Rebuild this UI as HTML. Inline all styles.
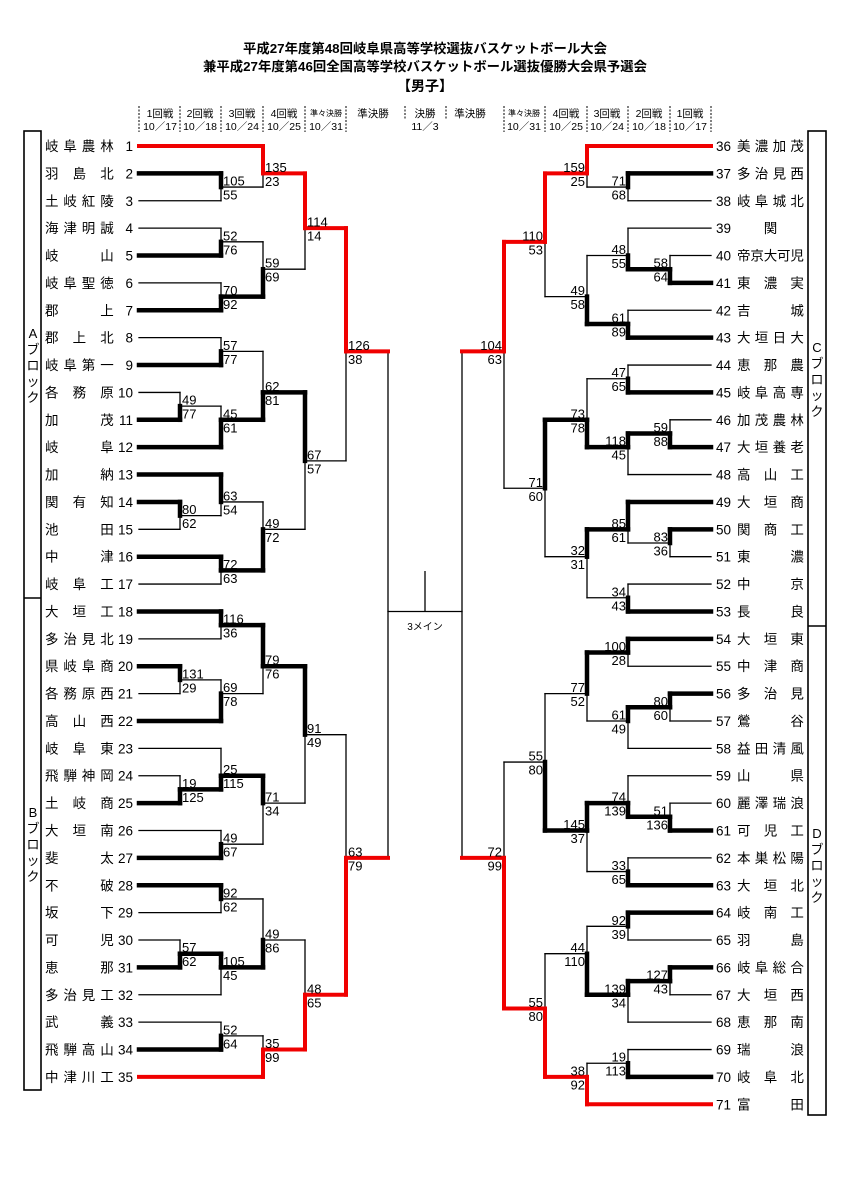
<!DOCTYPE html>
<html><head><meta charset="utf-8"><style>
html,body{margin:0;padding:0;background:#fff;}
svg{display:block;font-family:"Liberation Sans","Noto Sans CJK JP",sans-serif;}
</style></head><body>
<svg id="s" width="849" height="1200" viewBox="0 0 849 1200" xmlns="http://www.w3.org/2000/svg">
<rect width="849" height="1200" fill="#fff"/>
<text x="425" y="53" text-anchor="middle" font-size="13" font-weight="bold" textLength="364" lengthAdjust="spacingAndGlyphs">平成27年度第48回岐阜県高等学校選抜バスケットボール大会</text>
<text x="425" y="71" text-anchor="middle" font-size="13" font-weight="bold" textLength="444" lengthAdjust="spacingAndGlyphs">兼平成27年度第46回全国高等学校バスケットボール選抜優勝大会県予選会</text>
<text x="425" y="91" text-anchor="middle" font-size="14" font-weight="bold">【男子】</text>
<g font-size="10.5" text-anchor="middle" fill="#000">
<text x="160" y="117">1回戦</text><text x="200" y="117">2回戦</text><text x="242" y="117">3回戦</text><text x="284" y="117">4回戦</text><text x="326" y="116" font-size="8">準々決勝</text>
<text x="373" y="117">準決勝</text><text x="425" y="117">決勝</text><text x="470" y="117">準決勝</text>
<text x="524" y="116" font-size="8">準々決勝</text><text x="566" y="117">4回戦</text><text x="607" y="117">3回戦</text><text x="649" y="117">2回戦</text><text x="690" y="117">1回戦</text>
<text x="160" y="130">10／17</text><text x="200" y="130">10／18</text><text x="242" y="130">10／24</text><text x="284" y="130">10／25</text><text x="326" y="130">10／31</text>
<text x="425" y="130">11／3</text>
<text x="524" y="130">10／31</text><text x="566" y="130">10／25</text><text x="607" y="130">10／24</text><text x="649" y="130">10／18</text><text x="690" y="130">10／17</text>
</g>
<g stroke="#000" stroke-width="1" stroke-dasharray="2,1.5">
<line x1="139" y1="106" x2="139" y2="132"/><line x1="180" y1="106" x2="180" y2="132"/><line x1="221" y1="106" x2="221" y2="132"/><line x1="263" y1="106" x2="263" y2="132"/><line x1="305" y1="106" x2="305" y2="132"/><line x1="346" y1="106" x2="346" y2="132"/>
<line x1="405" y1="106" x2="405" y2="120"/><line x1="446" y1="106" x2="446" y2="120"/>
<line x1="504" y1="106" x2="504" y2="132"/><line x1="545" y1="106" x2="545" y2="132"/><line x1="587" y1="106" x2="587" y2="132"/><line x1="628" y1="106" x2="628" y2="132"/><line x1="670" y1="106" x2="670" y2="132"/><line x1="711" y1="106" x2="711" y2="132"/>
</g>
<g fill="none" stroke="#000" stroke-width="1.6">
<rect x="24" y="131" width="17" height="959"/><line x1="24" y1="598" x2="41" y2="598"/>
<rect x="808" y="131" width="18" height="984"/><line x1="808" y1="626" x2="826" y2="626"/>
</g>
<g font-size="13" text-anchor="middle">
<text x="33" y="338">A</text><text x="33" y="354">ブ</text><text x="33" y="370">ロ</text><text x="33" y="386">ッ</text><text x="33" y="402">ク</text>
<text x="33" y="817">B</text><text x="33" y="833">ブ</text><text x="33" y="849">ロ</text><text x="33" y="865">ッ</text><text x="33" y="881">ク</text>
<text x="817" y="352">C</text><text x="817" y="368">ブ</text><text x="817" y="384">ロ</text><text x="817" y="400">ッ</text><text x="817" y="416">ク</text>
<text x="817" y="838">D</text><text x="817" y="854">ブ</text><text x="817" y="870">ロ</text><text x="817" y="886">ッ</text><text x="817" y="902">ク</text>
</g>
<line x1="388" y1="611.5" x2="462" y2="611.5" stroke="#000" stroke-width="1.3"/>
<line x1="425" y1="571" x2="425" y2="611.5" stroke="#000" stroke-width="1.3"/>
<text x="425" y="630" font-size="10" text-anchor="middle">3メイン</text>
<g id="thin"></g><g id="thick"></g><g id="red"></g><g id="txt" font-size="13"></g>
</svg>
<script>
var NS="http://www.w3.org/2000/svg";
function Y(r){return 146+r*13.69;}
function el(p,tag,attrs,txt){var e=document.createElementNS(NS,tag);for(var k in attrs)e.setAttribute(k,attrs[k]);if(txt!=null)e.textContent=txt;document.getElementById(p).appendChild(e);return e;}
var ST={thin:{c:"#000",w:1.3},thick:{c:"#000",w:4.5},red:{c:"#f00000",w:4}};
function L(x1,y1,x2,y2,st){var s=ST[st];el(st,"line",{x1:x1,y1:y1,x2:x2,y2:y2,stroke:s.c,"stroke-width":s.w,"stroke-linecap":"square"});}
var COL={L:{1:180,2:221,3:263,4:305,5:346,6:388},R:{1:670,2:628,3:587,4:545,5:504,6:462}};
var REDT=[1,35,36,71];
function M(a,b,col,s1,s2,row){return {a:a,b:b,col:col,s1:s1,s2:s2,row:row};}
function draw(n,side){
 if(typeof n==="number"){var r=side==="L"?2*(n-1):2*(n-36);return {row:r,x:side==="L"?139:711,red:REDT.indexOf(n)>=0};}
 var A=draw(n.a,side),B=draw(n.b,side),mx=COL[side][n.col];
 var wa=null;if(n.s1!=null)wa=n.s1>n.s2;
 function st(c,won){if(won===null)return c.red?"red":"thin";return won?(c.red?"red":"thick"):"thin";}
 var sA=st(A,wa===null?null:wa),sB=st(B,wa===null?null:!wa);
 L(A.x,Y(A.row),mx,Y(A.row),sA);L(B.x,Y(B.row),mx,Y(B.row),sB);
 var vA=wa===null?"thin":sA,vB=wa===null?"thin":sB;
 L(mx,Y(A.row),mx,Y(n.row),vA);L(mx,Y(n.row),mx,Y(B.row),vB);
 if(n.s1!=null){var y=Y(n.row);
  if(side==="L"){el("txt","text",{x:mx+2,y:y-1.5},n.s1);el("txt","text",{x:mx+2,y:y+12.5},n.s2);}
  else{el("txt","text",{x:mx-2,y:y-1.5,"text-anchor":"end"},n.s1);el("txt","text",{x:mx-2,y:y+12.5,"text-anchor":"end"},n.s2);}}
 return {row:n.row,x:mx,red:wa===null?false:(wa?A.red:B.red)};
}
var A17=M(M(1,M(2,3,2,105,55,3),3,135,23,2),M(M(4,5,2,52,76,7),M(6,7,2,70,92,11),3,59,69,9),4,114,14,6);
var A817=M(M(M(8,9,2,57,77,15),M(M(10,11,1,49,77,19),12,2,45,61,20),3,62,81,18),M(M(13,M(14,15,1,80,62,27),2,63,54,26),M(16,17,2,72,63,31),3,49,72,28),4,67,57,23);
var QA=M(A17,A817,5,126,38,15);
var B1=M(M(M(18,19,2,116,36,35),M(M(20,21,1,131,29,39),22,2,69,78,40),3,79,76,38),M(M(23,M(24,25,1,19,125,47),2,25,115,46),M(26,27,2,49,67,51),3,71,34,48),4,91,49,43);
var B2=M(M(M(28,29,2,92,62,55),M(M(30,31,1,57,62,59),32,2,105,45,60),3,49,86,58),M(M(33,34,2,52,64,65),35,3,35,99,66),4,48,65,62);
var QB=M(B1,B2,5,63,79,52);
draw(M(QA,QB,6,null,null,34),"L");
var C1=M(M(36,M(37,38,2,71,68,3),3,159,25,2),M(M(39,M(40,41,1,58,64,9),2,48,55,8),M(42,43,2,61,89,13),3,49,58,11),4,110,53,7);
var C2=M(M(M(44,45,2,47,65,17),M(M(46,47,1,59,88,21),48,2,118,45,22),3,73,78,20),M(M(49,M(50,51,1,83,36,29),2,85,61,28),M(52,53,2,34,43,33),3,32,31,30),4,71,60,25);
var QC=M(C1,C2,5,104,63,15);
var D1=M(M(M(54,55,2,100,28,37),M(M(56,57,1,80,60,41),58,2,61,49,42),3,77,52,40),M(M(59,M(60,61,1,51,136,49),2,74,139,48),M(62,63,2,33,65,53),3,145,37,50),4,55,80,45);
var D2=M(M(M(64,65,2,92,39,57),M(M(66,67,1,127,43,61),68,2,139,34,62),3,44,110,59),M(M(69,70,2,19,113,67),71,3,38,92,68),4,55,80,63);
var QD=M(D1,D2,5,72,99,52);
draw(M(QC,QD,6,null,null,34),"R");
var LN=["岐阜農林","羽島北","土岐紅陵","海津明誠","岐山","岐阜聖徳","郡上","郡上北","岐阜第一","各務原","加茂","岐阜","加納","関有知","池田","中津","岐阜工","大垣工","多治見北","県岐阜商","各務原西","高山西","岐阜東","飛騨神岡","土岐商","大垣南","斐太","不破","坂下","可児","恵那","多治見工","武義","飛騨高山","中津川工"];
var RN=["美濃加茂","多治見西","岐阜城北","関","帝京大可児","東濃実","吉城","大垣日大","恵那農","岐阜高専","加茂農林","大垣養老","高山工","大垣商","関商工","東濃","中京","長良","大垣東","中津商","多治見","鶯谷","益田清風","山県","麗澤瑞浪","可児工","本巣松陽","大垣北","岐南工","羽島","岐阜総合","大垣西","恵那南","瑞浪","岐阜北","富田"];
function slots(n){if(n===1)return[1.5];if(n===2)return[0,3];if(n===3)return[0,1.5,3];if(n===4)return[0,1,2,3];return[0,0.75,1.5,2.25,3];}
function names(list,x0,step,first,side){
 for(var i=0;i<list.length;i++){var r=2*i,y=Y(r)+5,s=list[i],sl=slots(s.length);
  for(var j=0;j<s.length;j++)el("txt","text",{x:x0+sl[j]*step,y:y,"font-size":13.5},s[j]);
  var num=first+i;
  if(side==="L")el("txt","text",{x:133,y:y,"text-anchor":"end","font-size":13.5},num);
  else el("txt","text",{x:716,y:y,"font-size":13.5},num);}
}
names(LN,45,18.4,1,"L");names(RN,737,17.8,36,"R");
</script>
</body></html>
